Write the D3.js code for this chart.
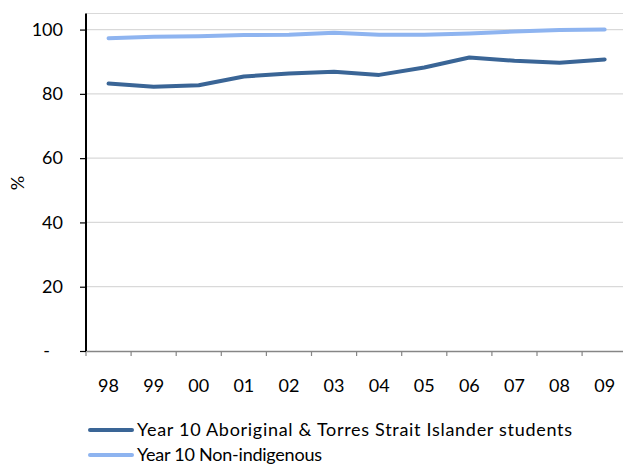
<!DOCTYPE html>
<html><head><meta charset="utf-8">
<script src="https://cdn.jsdelivr.net/npm/d3@7"></script>
<style>body{margin:0;background:#fff}svg{display:block}text{font-family:Lato,"Open Sans",sans-serif;fill:#000}</style>
</head><body><svg id="c" width="623" height="464"></svg>
<script>
const categories = ["98","99","00","01","02","03","04","05","06","07","08","09"];
const aboriginal = [83.2,82.2,82.7,85.4,86.3,86.9,85.9,88.2,91.3,90.3,89.7,90.7];
const nonIndigenous = [97.3,97.8,97.9,98.3,98.4,99.0,98.4,98.4,98.8,99.4,99.9,100.0];
const yTicks = [0,20,40,60,80,100];
const seriesNames = ["Year 10 Aboriginal & Torres Strait Islander students","Year 10 Non-indigenous"];
const colors = ["#3A6596","#8EB4F0"];

(function(){
const svg = d3.select("#c");
const pL = 86, pT = 13.5, pB = 351, pR = 86 + 12*45.1;
const x = d3.scaleBand().domain(categories).range([pL, pR]);
const y = d3.scaleLinear().domain([0,105]).range([pB, pT]);

// gridlines
svg.append("g").selectAll("line").data(yTicks.concat([105]).filter(d=>d>0)).join("line")
  .attr("x1", pL).attr("x2", 623).attr("y1", d=>y(d)).attr("y2", d=>y(d))
  .attr("stroke", "#d9d9d9").attr("stroke-width", 1.2);

// x axis
const xa = svg.append("g").attr("transform", `translate(0,${pB})`)
  .call(d3.axisBottom(x).tickSize(0).tickPadding(28));
xa.select(".domain").attr("stroke", "#868686").attr("stroke-width", 1.5);
xa.selectAll("text").style("font-size", "18px");
svg.append("g").selectAll("line").data(d3.range(categories.length+1)).join("line")
  .attr("x1", i=>pL + i*x.step()).attr("x2", i=>pL + i*x.step())
  .attr("y1", pB).attr("y2", pB+5).attr("stroke", "#868686").attr("stroke-width", 1.2);

// y axis
const ya = svg.append("g").attr("transform", `translate(${pL},0)`)
  .call(d3.axisLeft(y).tickValues(yTicks).tickSize(6).tickPadding(17).tickFormat(d=>d===0?"-":d));
ya.select(".domain").attr("d", `M0,${pT}V${pB}`).attr("stroke", "#000").attr("stroke-width", 2);
ya.selectAll(".tick line").attr("stroke", "#000").attr("stroke-width", 1.2);
ya.selectAll("text").style("font-size", "18px");
ya.selectAll(".tick text").filter(d=>d===0).attr("x", -36);

svg.append("text").attr("transform", "translate(24,183) rotate(-90)")
  .attr("text-anchor", "middle").style("font-size", "18px").text("%");

// lines
const line = d3.line().x((d,i)=>x(categories[i]) + x.bandwidth()/2).y(d=>y(d));
[aboriginal, nonIndigenous].forEach((s,k)=>{
  svg.append("path").datum(s).attr("d", line).attr("fill", "none")
    .attr("stroke", colors[k]).attr("stroke-width", 4).attr("stroke-linecap", "round").attr("stroke-linejoin", "round");
});

// legend
const lg = svg.append("g");
const lens = [435, 185];
seriesNames.forEach((n,k)=>{
  const yy = 430 + k*25;
  lg.append("line").attr("x1", 90).attr("x2", 132).attr("y1", yy).attr("y2", yy)
    .attr("stroke", colors[k]).attr("stroke-width", 4).attr("stroke-linecap", "round");
  lg.append("text").attr("x", 137).attr("y", yy+6).style("font-size", "18px")
    .attr("textLength", lens[k]).attr("lengthAdjust", "spacing").text(n);
});
})();
</script></body></html>
